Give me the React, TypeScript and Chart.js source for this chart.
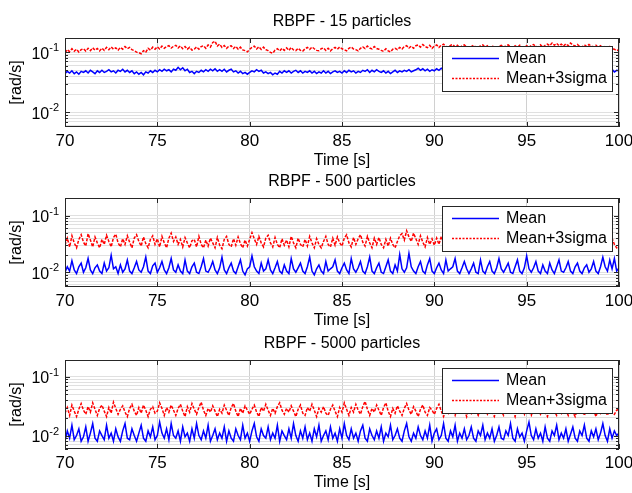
import React, { useEffect, useRef } from 'react';
import { Chart, registerables } from 'chart.js';

Chart.register(...registerables);

// ---------------- data (values in mrad/s, sampled every 0.125 s from 70 s to 100 s) ----------------
const T_START = 70;
const T_END = 100;

const MEAN_15 = [
  44, 48, 45, 49, 44, 47, 43, 48,
  46, 49, 45, 50, 47, 44, 49, 46,
  50, 46, 48, 51, 47, 49, 45, 50,
  48, 52, 47, 50, 46, 49, 44, 47,
  43, 46, 42, 47, 45, 49, 46, 50,
  47, 51, 48, 52, 49, 51, 47, 52,
  50, 56, 51, 55, 49, 52, 46, 48,
  44, 48, 46, 50, 47, 51, 48, 52,
  49, 53, 48, 51, 48, 52, 47, 50,
  52, 47, 49, 45, 48, 44, 46, 43,
  46, 49, 47, 51, 48, 50, 45, 47,
  44, 46, 42, 45, 43, 48, 45, 49,
  46, 49, 45, 48, 50, 46, 49, 45,
  48, 46, 49, 45, 48, 44, 47, 45,
  49, 45, 48, 44, 47, 49, 46, 48,
  45, 49, 46, 50, 47, 49, 45, 48,
  46, 50, 48, 51, 46, 50, 47, 51,
  48, 46, 49, 45, 48, 44, 47, 50,
  46, 49, 47, 50, 48, 51, 47, 49,
  51, 54, 50, 53, 49, 52, 48, 51,
  49, 53, 50, 54, 50, 52, 48, 53,
  51, 54, 49, 52, 50, 53, 49, 51,
  48, 52, 49, 51, 47, 52, 49, 53,
  49, 53, 51, 54, 48, 52, 49, 51,
  48, 52, 47, 50, 48, 52, 49, 53,
  50, 53, 49, 54, 50, 52, 48, 52,
  50, 54, 49, 53, 51, 55, 50, 53,
  51, 54, 49, 52, 48, 51, 50, 53,
  48, 52, 47, 51, 49, 52, 47, 50,
  48, 51, 46, 50, 48, 52, 47, 50,
  49,
];

const SIGMA3_15 = [
  98, 110, 102, 114, 104, 112, 100, 110,
  114, 104, 116, 106, 118, 108, 115, 105,
  117, 107, 120, 110, 122, 112, 118, 108,
  120, 112, 124, 114, 120, 110, 106, 100,
  98, 94, 106, 100, 116, 108, 121, 112,
  123, 113, 126, 116, 124, 128, 117, 125,
  130, 118, 127, 114, 124, 112, 120, 108,
  112, 122, 112, 124, 128, 116, 132, 122,
  145, 152, 126, 136, 120, 129, 116, 126,
  128, 115, 125, 112, 121, 109, 106, 101,
  112, 120, 126, 113, 123, 111, 121, 110,
  106, 99, 96, 108, 114, 105, 116, 107,
  118, 107, 120, 109, 106, 116, 107, 104,
  114, 120, 111, 122, 114, 107, 106, 114,
  118, 107, 116, 105, 114, 120, 112, 122,
  114, 110, 105, 116, 122, 113, 110, 105,
  116, 122, 115, 126, 117, 113, 124, 115,
  112, 107, 103, 114, 105, 101, 112, 116,
  110, 120, 113, 124, 128, 117, 126, 116,
  128, 132, 121, 134, 124, 119, 130, 116,
  126, 132, 120, 130, 136, 124, 120, 130,
  134, 122, 130, 118, 128, 132, 122, 116,
  124, 130, 121, 118, 128, 132, 120, 128,
  118, 128, 120, 116, 126, 130, 120, 128,
  132, 122, 118, 128, 120, 130, 122, 118,
  128, 120, 130, 134, 124, 122, 132, 120,
  130, 136, 128, 142, 130, 140, 128, 136,
  126, 138, 128, 142, 132, 126, 134, 124,
  122, 132, 124, 134, 126, 122, 130, 120,
  128, 118, 126, 116, 124, 114, 112, 106,
  110,
];

const MEAN_500 = [
  10, 12.5, 10.5, 16, 11, 9.5, 12.5, 14.5,
  10, 12, 17.5, 11, 9.5, 12, 13.5, 10.5,
  9.5, 14.5, 10.5, 12, 20, 11.5, 12.5, 9.5,
  13.5, 10, 11.5, 16.5, 10.5, 9.5, 12, 15.5,
  11, 10, 12.5, 18.5, 10.5, 9.5, 13, 14.5,
  10, 12, 15.5, 11, 9.5, 12, 17.5, 11,
  10, 13.5, 10.5, 9.5, 16.5, 10.5, 9.5, 12.5,
  14.5, 10, 9.5, 12.5, 17.5, 10.5, 10, 12,
  15.5, 11, 9.5, 12, 18.5, 11, 9.5, 12,
  14.5, 10.5, 9.5, 12.5, 16.5, 10.5, 9, 11.5,
  12.5, 19.5, 12.5, 10.5, 9.5, 14.5, 10.5, 11.5,
  16.5, 11, 9.5, 12, 15.5, 10.5, 9.5, 13.5,
  10.5, 9.5, 17.5, 11.5, 10, 12, 14.5, 10.5,
  9.5, 12.5, 18.5, 10.5, 9, 11.5, 13.5, 10.5,
  9.5, 15.5, 10.5, 11.5, 12.5, 16.5, 10.5, 9.5,
  12, 14.5, 11, 9.5, 17.5, 11.5, 10, 12,
  15.5, 10.5, 9.5, 12.5, 18.5, 10.5, 9.5, 12,
  14.5, 10, 9.5, 12.5, 16.5, 10.5, 9.5, 13.5,
  10.5, 20.5, 11.5, 10, 12, 21.5, 12.5, 10.5,
  9.5, 12.5, 15.5, 10.5, 9.5, 13.5, 17.5, 10.5,
  9.5, 12, 14.5, 11, 9.5, 16.5, 10.5, 11.5,
  12.5, 17.5, 10.5, 9.5, 12, 15.5, 11.5, 9.5,
  11.5, 14.5, 10, 9.5, 16.5, 10.5, 9.5, 12.5,
  15.5, 10.5, 9.5, 12, 17.5, 11.5, 10, 12,
  14.5, 10, 9.5, 12.5, 16.5, 10.5, 9.5, 12,
  19.5, 11.5, 10, 12, 15.5, 10.5, 9.5, 13.5,
  10.5, 9.5, 14.5, 11, 9.5, 12.5, 16.5, 10.5,
  10, 12, 15.5, 10.5, 9.5, 12.5, 14.5, 10.5,
  9.5, 12, 13.5, 10, 11.5, 15.5, 10.5, 9.5,
  12.5, 18.5, 12.5, 10.5, 16.5, 11.5, 17.5, 10.5,
  12,
];

const SIGMA3_500 = [
  30, 40, 28, 44, 33, 27, 38, 46,
  34, 29, 48, 37, 28, 42, 33, 27,
  38, 31, 45, 35, 28, 41, 47, 33,
  28, 39, 31, 44, 34, 27, 40, 46,
  35, 29, 42, 32, 27, 38, 44, 31,
  39, 28, 43, 33, 27, 40, 49, 35,
  42, 31, 38, 28, 41, 33, 27, 36,
  38, 28, 43, 31, 27, 37, 29, 40,
  33, 27, 41, 30, 26, 38, 43, 31,
  28, 39, 30, 42, 32, 27, 37, 29,
  38, 50, 39, 31, 43, 33, 28, 40,
  45, 33, 28, 41, 31, 27, 39, 30,
  37, 28, 43, 33, 27, 40, 31, 28,
  38, 29, 43, 33, 27, 39, 31, 27,
  35, 43, 31, 28, 40, 30, 42, 33,
  29, 40, 46, 33, 28, 41, 31, 39,
  46, 34, 29, 43, 33, 27, 40, 31,
  41, 31, 27, 38, 29, 40, 31, 27,
  35, 44, 48, 37, 54, 42, 35, 49,
  39, 31, 44, 34, 28, 41, 31, 39,
  30, 40, 31, 43, 33, 28, 41, 31,
  28, 39, 30, 43, 33, 28, 40, 31,
  41, 33, 28, 40, 31, 44, 35, 28,
  38, 30, 42, 33, 27, 40, 31, 43,
  33, 28, 41, 31, 44, 35, 29, 40,
  31, 43, 35, 28, 40, 31, 42, 33,
  28, 38, 30, 43, 33, 28, 40, 31,
  41, 31, 27, 38, 30, 43, 33, 28,
  40, 31, 44, 35, 28, 41, 33, 27,
  38, 30, 43, 33, 28, 40, 31, 27,
  30,
];

const MEAN_5000 = [
  8, 12, 9, 15, 8.5, 10, 13, 8,
  9.5, 14, 8, 11, 16, 9, 8, 12,
  10, 8.5, 15, 9, 11, 8, 13, 9.5,
  8, 12, 16, 9, 8.5, 13, 10, 8,
  11, 15, 9, 8, 12, 9.5, 14, 8.5,
  10, 17, 11, 9, 13, 8.5, 16, 10,
  9, 12, 8, 14, 9.5, 11, 8, 13,
  9, 16, 10, 8.5, 12, 9, 15, 8,
  10, 13, 8.5, 11, 9, 14, 8, 12,
  9, 8, 13, 10, 8.5, 15, 9, 11,
  8, 12, 16, 9.5, 8, 13, 10, 9,
  14, 8.5, 11, 9, 15, 8, 12, 10,
  8.5, 13, 9, 16, 10, 8, 12, 9,
  14, 8.5, 11, 8, 13, 9.5, 15, 8,
  10, 12, 8.5, 14, 9, 11, 8, 13,
  9, 16, 10, 8.5, 13, 9, 11, 8,
  12, 15, 9, 8, 13, 10, 8.5, 12,
  9, 14, 8, 11, 9.5, 15, 8.5, 10,
  13, 9, 8, 12, 16, 9.5, 8, 11,
  9, 14, 10, 8.5, 12, 9, 15, 8,
  11, 13, 8.5, 10, 16, 9, 8, 12,
  9.5, 15, 8, 11, 9, 13, 8.5, 10,
  14, 9, 8, 12, 10, 15, 8.5, 11,
  9, 13, 8, 10, 14, 9, 8.5, 12,
  10, 16, 9, 8, 13, 9.5, 11, 8,
  12, 17, 10, 8.5, 13, 9, 11, 8,
  14, 9, 8, 12, 10, 15, 8.5, 11,
  9, 13, 8, 10.5, 14, 9, 8, 12,
  10, 15, 9, 8, 12, 9.5, 13, 8.5,
  11, 16, 10, 8, 13, 9, 12, 10,
  11,
];

const SIGMA3_5000 = [
  24, 30, 22, 33, 26, 21, 28, 35,
  27, 23, 31, 25, 36, 28, 22, 29,
  33, 26, 21, 30, 24, 37, 29, 23,
  28, 32, 25, 21, 29, 34, 26, 22,
  30, 24, 33, 27, 21, 28, 31, 24,
  26, 36, 29, 22, 30, 25, 33, 27,
  22, 29, 34, 26, 21, 31, 25, 35,
  28, 23, 30, 37, 27, 22, 29, 25,
  32, 26, 21, 28, 24, 33, 27, 22,
  30, 35, 26, 21, 29, 24, 32, 27,
  23, 28, 33, 25, 21, 30, 26, 34,
  27, 22, 29, 24, 31, 36, 27, 23,
  29, 25, 32, 26, 21, 28, 33, 24,
  22, 30, 26, 34, 27, 21, 29, 25,
  31, 24, 22, 28, 33, 26, 21, 30,
  25, 36, 28, 22, 30, 25, 34, 27,
  23, 31, 38, 28, 22, 29, 25, 33,
  27, 22, 30, 36, 26, 21, 29, 24,
  32, 26, 22, 29, 35, 27, 23, 31,
  26, 21, 28, 33, 25, 22, 30, 27,
  23, 29, 34, 26, 21, 28, 24, 32,
  27, 22, 30, 25, 33, 28, 21, 29,
  24, 31, 26, 22, 29, 34, 27, 23,
  30, 25, 21, 28, 33, 26, 22, 29,
  25, 32, 27, 21, 30, 24, 28, 23,
  31, 26, 22, 29, 35, 27, 23, 30,
  25, 21, 28, 33, 26, 22, 29, 24,
  32, 27, 22, 30, 25, 21, 28, 33,
  26, 22, 29, 24, 31, 27, 21, 28,
  24, 30, 26, 22, 29, 25, 23, 27,
  28,
];

const TITLES = ['RBPF - 15 particles', 'RBPF - 500 particles', 'RBPF - 5000 particles'];
const SERIES_NAMES = ['Mean', 'Mean+3sigma'];
const X_TICKS = [70, 75, 80, 85, 90, 95, 100];
const Y_GRID = [0.005, 0.006, 0.007, 0.008, 0.009, 0.01, 0.02, 0.03, 0.04, 0.05, 0.06, 0.07, 0.08, 0.09, 0.1, 0.2];
const Y_LABELS: [number, string][] = [[0.01, '-2'], [0.1, '-1']];
const Y_LIMITS: [number, number][] = [[0.0057, 0.172], [0.0055, 0.204], [0.0059, 0.193]];
const PANEL_DATA = [
  [MEAN_15, SIGMA3_15],
  [MEAN_500, SIGMA3_500],
  [MEAN_5000, SIGMA3_5000],
];

// ---------------- styling ----------------
const FONT = '"Liberation Sans", Arial, Helvetica, sans-serif';
const BLUE = '#0000ff';
const RED = '#ff0000';
const AXIS = '#262626';
const CANVAS_W = 632;
const CANVAS_H = 171;
const PANEL_TOPS = [0, 160, 322];
const RED_DASH = [3, 1.5];
const LEGEND_RED_DASH = [2, 1.5];

function toPoints(values: number[]) {
  const n = values.length;
  return values.map((v, i) => ({ x: T_START + (i * (T_END - T_START)) / (n - 1), y: v / 1000 }));
}

function makeOverlay(title: string) {
  return {
    id: 'matlabOverlay',
    afterDraw(chart: any) {
      const { ctx, chartArea: a, scales } = chart;
      const ys = scales.y;
      const xs = scales.x;
      ctx.save();

      // axes box
      ctx.strokeStyle = AXIS;
      ctx.lineWidth = 1;
      ctx.setLineDash([]);
      ctx.strokeRect(a.left + 0.5, a.top + 0.5, a.right - a.left - 1, a.bottom - a.top - 1);

      // inward tick marks
      ctx.beginPath();
      ys.ticks.forEach((t: any) => {
        const py = Math.round(ys.getPixelForValue(t.value)) + 0.5;
        const major = Y_LABELS.some(([v]) => Math.abs(v - t.value) < 1e-12);
        const len = major ? 5 : 3;
        ctx.moveTo(a.left, py);
        ctx.lineTo(a.left + len, py);
        ctx.moveTo(a.right, py);
        ctx.lineTo(a.right - len, py);
      });
      xs.ticks.forEach((t: any) => {
        const px = Math.round(xs.getPixelForValue(t.value)) + 0.5;
        ctx.moveTo(px, a.bottom);
        ctx.lineTo(px, a.bottom - 5);
        ctx.moveTo(px, a.top);
        ctx.lineTo(px, a.top + 5);
      });
      ctx.stroke();

      // y tick labels 10^n
      ctx.fillStyle = '#000';
      Y_LABELS.forEach(([v, exp]) => {
        const py = ys.getPixelForValue(v);
        ctx.font = `11px ${FONT}`;
        const supW = ctx.measureText(exp).width;
        const xr = a.left - 6;
        ctx.textBaseline = 'middle';
        ctx.textAlign = 'left';
        ctx.fillText(exp, xr - supW, py - 4);
        ctx.font = `16px ${FONT}`;
        ctx.textAlign = 'right';
        ctx.fillText('10', xr - supW, py + 2);
      });

      // title
      ctx.font = `16px ${FONT}`;
      ctx.textAlign = 'center';
      ctx.textBaseline = 'alphabetic';
      ctx.fillText(title, (a.left + a.right) / 2, 25.5);

      // legend
      const bw = 170;
      const bh = 45;
      const bx = a.right - 7 - bw;
      const by = a.top + 8;
      ctx.fillStyle = '#ffffff';
      ctx.fillRect(bx, by, bw, bh);
      ctx.strokeStyle = AXIS;
      ctx.lineWidth = 1;
      ctx.strokeRect(bx + 0.5, by + 0.5, bw, bh);
      const rows = [
        { label: SERIES_NAMES[0], color: BLUE, dash: [] as number[], dy: 12.5, w: 1.6 },
        { label: SERIES_NAMES[1], color: RED, dash: LEGEND_RED_DASH, dy: 32.5, w: 1.3 },
      ];
      rows.forEach((r) => {
        const ly = by + r.dy;
        ctx.strokeStyle = r.color;
        ctx.lineWidth = r.w;
        ctx.setLineDash(r.dash);
        ctx.beginPath();
        ctx.moveTo(bx + 10, ly);
        ctx.lineTo(bx + 57, ly);
        ctx.stroke();
        ctx.setLineDash([]);
        ctx.fillStyle = '#000';
        ctx.font = `16px ${FONT}`;
        ctx.textAlign = 'left';
        ctx.textBaseline = 'middle';
        ctx.fillText(r.label, bx + 64, by + r.dy);
      });
      ctx.restore();
    },
  };
}

function Panel({ index }: { index: number }) {
  const ref = useRef<HTMLCanvasElement | null>(null);
  useEffect(() => {
    if (!ref.current) return;
    const [ymin, ymax] = Y_LIMITS[index];
    const [mean, sig] = PANEL_DATA[index];
    const chart = new Chart(ref.current, {
      type: 'line',
      data: {
        datasets: [
          {
            label: SERIES_NAMES[0],
            data: toPoints(mean),
            borderColor: BLUE,
            borderWidth: 1.5,
            pointRadius: 0,
            tension: 0,
          },
          {
            label: SERIES_NAMES[1],
            data: toPoints(sig),
            borderColor: RED,
            borderWidth: 1.5,
            borderDash: RED_DASH,
            pointRadius: 0,
            tension: 0,
          },
        ],
      },
      options: {
        animation: false,
        responsive: false,
        maintainAspectRatio: false,
        devicePixelRatio: 1,
        events: [],
        layout: { padding: { top: 38, right: CANVAS_W - 619, left: 0, bottom: 0 } },
        plugins: {
          legend: { display: false },
          tooltip: { enabled: false },
          title: { display: false },
        },
        scales: {
          x: {
            type: 'linear',
            min: T_START,
            max: T_END,
            afterBuildTicks: (s: any) => {
              s.ticks = X_TICKS.map((v) => ({ value: v }));
            },
            afterFit: (s: any) => {
              s.height = CANVAS_H - 127;
              s.paddingLeft = 0;
              s.paddingRight = 0;
            },
            grid: { color: '#d0d0d0', drawTicks: false, lineWidth: 1 },
            border: { display: false },
            ticks: {
              font: { family: FONT, size: 17 },
              color: '#000',
              padding: 4,
              maxRotation: 0,
              autoSkip: false,
            },
            title: {
              display: true,
              text: 'Time [s]',
              font: { family: FONT, size: 16 },
              color: '#000',
              padding: { top: 0, bottom: 1 },
            },
          },
          y: {
            type: 'logarithmic',
            min: ymin,
            max: ymax,
            afterBuildTicks: (s: any) => {
              s.ticks = Y_GRID.filter((v) => v > ymin && v < ymax).map((v) => ({ value: v }));
            },
            afterFit: (s: any) => {
              s.width = 65;
              s.paddingTop = 0;
              s.paddingBottom = 0;
            },
            grid: { color: '#e0e0e0', drawTicks: false, lineWidth: 1 },
            border: { display: false },
            ticks: { display: false },
            title: {
              display: true,
              text: '[rad/s]',
              font: { family: FONT, size: 16 },
              color: '#000',
              padding: { top: 7, bottom: 0 },
            },
          },
        },
      },
      plugins: [makeOverlay(TITLES[index])],
    } as any);
    return () => chart.destroy();
  }, [index]);
  return (
    <canvas
      ref={ref}
      width={CANVAS_W}
      height={CANVAS_H}
      style={{ position: 'absolute', left: 0, top: PANEL_TOPS[index], width: CANVAS_W, height: CANVAS_H, display: 'block' }}
    />
  );
}

export default function App() {
  return (
    <div style={{ position: 'fixed', left: 0, top: 0, width: 632, height: 493, background: '#ffffff', overflow: 'hidden' }}>
      {[0, 1, 2].map((i) => (
        <Panel key={i} index={i} />
      ))}
    </div>
  );
}
